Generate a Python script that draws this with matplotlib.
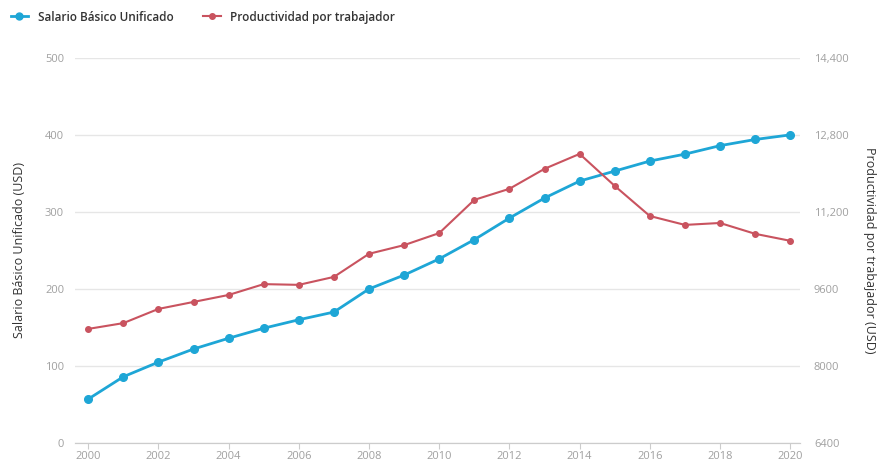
import numpy as np
import matplotlib
matplotlib.use("Agg")
import matplotlib.pyplot as plt
from matplotlib.lines import Line2D

years = list(range(2000, 2021))
salario = [57, 86, 105, 122, 136, 149, 160, 170, 200, 218, 239, 264,
           292, 318, 340, 353, 366, 375, 386, 394, 400]
productividad = [8770, 8890, 9185, 9330, 9475, 9700, 9685, 9850, 10330, 10510,
                 10760, 11450, 11680, 12095, 12405, 11740, 11115, 10930, 10970,
                 10745, 10600]

left_ticks = [0, 100, 200, 300, 400, 500]
right_ticks = [6400, 8000, 9600, 11200, 12800, 14400]
right_labels = ["6400", "8000", "9600", "11,200", "12,800", "14,400"]
x_ticks = list(range(2000, 2021, 2))

azul = "#1ea6d6"
rojo = "#c9535f"
gris = "#a0a0a0"

plt.rcParams['font.family'] = ['Open Sans', 'DejaVu Sans']

fig = plt.figure(figsize=(8.85, 4.68), dpi=100)
ax = fig.add_axes([0.085, 0.0534, 0.819, 0.823])
ax2 = ax.twinx()

ax.plot(years, salario, color=azul, lw=2, marker="o", ms=5.5, zorder=3)
ax2.plot(years, productividad, color=rojo, lw=1.5, marker="o", ms=4, zorder=3)

ax.set_xlim(1999.63, 2020.28)
ax.set_ylim(0, 500)
ax2.set_ylim(6400, 14400)
ax.set_yticks(left_ticks)
ax2.set_yticks(right_ticks)
ax2.set_yticklabels(right_labels)
ax.set_xticks(x_ticks)

ax.grid(axis="y", color="#e6e6e6", lw=1)
ax.set_axisbelow(True)
ax2.set_zorder(ax.get_zorder() + 1)
ax2.patch.set_visible(False)

for a in (ax, ax2):
    for s in ("top", "left", "right"):
        a.spines[s].set_visible(False)
    a.spines["bottom"].set_color("#cccccc")
ax.tick_params(axis="y", length=0, labelsize=8, labelcolor=gris, pad=8)
ax2.tick_params(axis="y", length=0, labelsize=8, labelcolor=gris, pad=10)
ax.tick_params(axis="x", length=4, color="#cccccc", labelsize=8, labelcolor=gris, pad=2)

ax.set_ylabel("Salario Básico Unificado (USD)", fontsize=9, color="#333333", labelpad=14)
ax2.set_ylabel("Productividad por trabajador (USD)", fontsize=9, color="#333333",
               rotation=-90, labelpad=20)

handles = [Line2D([0], [0], color=azul, lw=2, marker="o", ms=5),
           Line2D([0], [0], color=rojo, lw=1.5, marker="o", ms=4)]
fig.legend(handles, ["Salario Básico Unificado", "Productividad por trabajador"],
           loc="upper left", bbox_to_anchor=(0.0, 1.0), ncol=2, frameon=False,
           fontsize=8.5, handlelength=1.5, columnspacing=2.5,
           labelcolor="#333333", prop={'weight': 'semibold', 'size': 8.5})

fig.savefig("out.png", dpi=100)
